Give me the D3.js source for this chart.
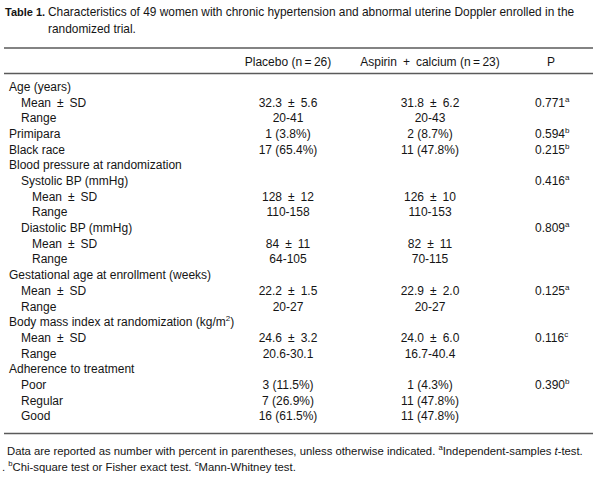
<!DOCTYPE html>
<html>
<head>
<meta charset="utf-8">
<script src="https://cdn.jsdelivr.net/npm/d3@7"></script>
<style>
  html, body { margin: 0; padding: 0; background: #fff; }
  svg { display: block; }
  text { font-family: "Liberation Sans", Arial, Helvetica, sans-serif; fill: #151515; white-space: pre; }
</style>
</head>
<body>
<svg id="chart" width="600" height="479"></svg>
<script>
const E = "\u2002";
const titleBold = "Table 1.";
const titleLines = [
  "Characteristics of 49 women with chronic hypertension and abnormal uterine Doppler enrolled in the",
  "randomized trial."
];
const columnHeaders = ["Placebo (n\u2009=\u200926)", "Aspirin" + E + "+" + E + "calcium (n\u2009=\u200923)", "P"];

const rowLabels = [
  "Age (years)", "Mean" + E + "±" + E + "SD", "Range", "Primipara", "Black race",
  "Blood pressure at randomization", "Systolic BP (mmHg)", "Mean" + E + "±" + E + "SD", "Range",
  "Diastolic BP (mmHg)", "Mean" + E + "±" + E + "SD", "Range",
  "Gestational age at enrollment (weeks)", "Mean" + E + "±" + E + "SD", "Range",
  "Body mass index at randomization (kg/m", "Mean" + E + "±" + E + "SD", "Range",
  "Adherence to treatment", "Poor", "Regular", "Good"
];
const rowLabelSup = ["", "", "", "", "", "", "", "", "", "", "", "", "", "", "", "2", "", "", "", "", "", ""];
const rowLabelTail = ["", "", "", "", "", "", "", "", "", "", "", "", "", "", "", ")", "", "", "", "", "", ""];
const rowIndent = [0, 1, 1, 0, 0, 0, 1, 2, 2, 1, 2, 2, 0, 1, 1, 0, 1, 1, 0, 1, 1, 1];
const placebo = ["", "32.3±5.6", "20-41", "1 (3.8%)", "17 (65.4%)", "", "", "128±12", "110-158", "",
  "84±11", "64-105", "", "22.2±1.5", "20-27", "", "24.6±3.2", "20.6-30.1", "",
  "3 (11.5%)", "7 (26.9%)", "16 (61.5%)"];
const aspirin = ["", "31.8±6.2", "20-43", "2 (8.7%)", "11 (47.8%)", "", "", "126±10", "110-153", "",
  "82±11", "70-115", "", "22.9±2.0", "20-27", "", "24.0±6.0", "16.7-40.4", "",
  "1 (4.3%)", "11 (47.8%)", "11 (47.8%)"];
const pValues = ["", "0.771", "", "0.594", "0.215", "", "0.416", "", "", "0.809", "", "", "",
  "0.125", "", "", "0.116", "", "", "0.390", "", ""];
const pSup = ["", "a", "", "b", "b", "", "a", "", "", "a", "", "", "", "a", "", "", "c", "", "", "b", "", ""];

const footLine1 = [
  {t: "Data are reported as number with percent in parentheses, unless otherwise indicated. "},
  {t: "a", sup: true}, {t: "Independent-samples "}, {t: "t", it: true}, {t: "-test."}
];
const footLine2 = [
  {t: ". "}, {t: "b", sup: true}, {t: "Chi-square test or Fisher exact test. "},
  {t: "c", sup: true}, {t: "Mann-Whitney test."}
];

const svg = d3.select("#chart");
const fmt = s => s.replace("±", E + "±" + E);

// Title
svg.append("text").attr("x", 5).attr("y", 16).attr("font-size", 11).attr("font-weight", "bold").text(titleBold);
svg.append("text").attr("x", 48).attr("y", 16).attr("font-size", 11.9).text(titleLines[0]);
svg.append("text").attr("x", 48).attr("y", 33).attr("font-size", 11.9).text(titleLines[1]);

// Rules
const ruleX = [4, 593];
const rules = [48, 73.5, 433.5];
svg.selectAll("line.rule").data(rules).join("line")
  .attr("x1", ruleX[0]).attr("x2", ruleX[1])
  .attr("y1", d => d).attr("y2", d => d)
  .attr("stroke", "#5a5a5a").attr("stroke-width", 1.4);

// Columns
const colX = d3.scaleOrdinal().domain(["placebo", "aspirin", "p"]).range([288, 430, 551]);
svg.selectAll("text.hdr").data(columnHeaders).join("text")
  .attr("x", (d, i) => colX(["placebo", "aspirin", "p"][i]))
  .attr("y", 66).attr("text-anchor", "middle").attr("font-size", 12).text(d => d);

// Rows
const idx = d3.range(rowLabels.length);
const y = d3.scaleLinear().domain([0, rowLabels.length - 1]).range([91, 91 + 15.68 * (rowLabels.length - 1)]);
const indentX = d3.scaleOrdinal().domain([0, 1, 2]).range([9, 21, 32]);

const lbl = svg.selectAll("text.lbl").data(idx).join("text")
  .attr("x", i => indentX(rowIndent[i])).attr("y", i => y(i)).attr("font-size", 12);
lbl.append("tspan").text(i => rowLabels[i]);
lbl.filter(i => rowLabelSup[i]).append("tspan").attr("font-size", 8).attr("dy", -5).text(i => rowLabelSup[i]);
lbl.filter(i => rowLabelTail[i]).append("tspan").attr("dy", 5).text(i => rowLabelTail[i]);

svg.selectAll("text.pl").data(idx.filter(i => placebo[i])).join("text")
  .attr("x", colX("placebo")).attr("y", i => y(i)).attr("text-anchor", "middle").attr("font-size", 12)
  .text(i => fmt(placebo[i]));
svg.selectAll("text.as").data(idx.filter(i => aspirin[i])).join("text")
  .attr("x", colX("aspirin")).attr("y", i => y(i)).attr("text-anchor", "middle").attr("font-size", 12)
  .text(i => fmt(aspirin[i]));
const pv = svg.selectAll("text.pv").data(idx.filter(i => pValues[i])).join("text")
  .attr("x", 535).attr("y", i => y(i)).attr("font-size", 12);
pv.append("tspan").text(i => pValues[i]);
pv.append("tspan").attr("font-size", 8).attr("dy", -5).text(i => pSup[i]);

// Footnotes
function foot(parts, x, yy, fs) {
  const t = svg.append("text").attr("x", x).attr("y", yy).attr("font-size", fs);
  let raised = false;
  parts.forEach(p => {
    const s = t.append("tspan").text(p.t);
    if (p.sup) { s.attr("font-size", fs * 0.68).attr("dy", -5); raised = true; }
    else if (raised) { s.attr("dy", 5); raised = false; }
    if (p.it) s.attr("font-style", "italic");
  });
  return t;
}
foot(footLine1, 7, 455, 11.3);
foot(footLine2, 2, 471, 11.3);
</script>
</body>
</html>
